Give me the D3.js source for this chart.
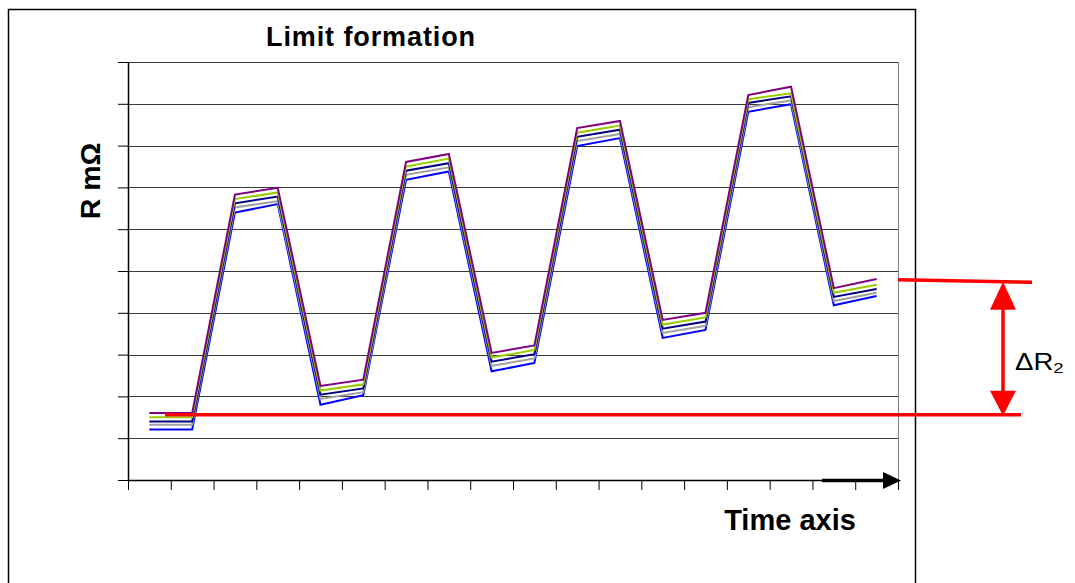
<!DOCTYPE html>
<html>
<head>
<meta charset="utf-8">
<script src="https://cdn.jsdelivr.net/npm/d3@7"></script>
<style>
  html, body { margin: 0; padding: 0; background: #fff; }
  svg { display: block; font-family: "Liberation Sans", Arial, sans-serif; }
</style>
</head>
<body>
<svg id="chart" width="1075" height="583"></svg>
<script>
// ---- Data ----
const categories = d3.range(18).map(i => "t" + (i + 1));
const seriesNames = ["blue", "gray", "navy", "green", "purple"];
const purpleValues = [1.60,1.60,6.83,6.99,2.25,2.40,7.61,7.80,3.04,3.22,8.42,8.59,3.83,4.00,9.21,9.41,4.59,4.81];
const greenValues  = [1.50,1.50,6.72,6.88,2.14,2.29,7.50,7.69,2.93,3.11,8.31,8.48,3.72,3.89,9.11,9.25,4.48,4.67];
const navyValues   = [1.40,1.40,6.62,6.78,2.04,2.19,7.40,7.58,2.83,3.01,8.21,8.38,3.62,3.79,9.02,9.18,4.38,4.57];
const grayValues   = [1.32,1.32,6.52,6.67,1.94,2.10,7.30,7.48,2.73,2.91,8.11,8.28,3.52,3.69,8.92,9.08,4.28,4.48];
const blueValues   = [1.21,1.21,6.40,6.60,1.80,2.03,7.18,7.38,2.60,2.80,7.99,8.18,3.40,3.59,8.81,8.99,4.18,4.40];
const yTickValues = d3.range(0, 11);     // 0..10, unlabeled
const refLowValue = 1.56;                // lower red reference line
const refHighValues = [4.79, 4.73];      // upper red line (start, end)
const titleText = "Limit formation";
const yLabelText = "R mΩ";
const xLabelText = "Time axis";

const colors = { purple: "#800080", green: "#99CC00", navy: "#000080", gray: "#A0A0A0", blue: "#0000FF" };
const valuesByName = { purple: purpleValues, green: greenValues, navy: navyValues, gray: grayValues, blue: blueValues };

// ---- Layout ----
const svg = d3.select("#chart");
const plot = { left: 128, right: 898, top: 62, bottom: 480 };

const x = d3.scaleLinear().domain([0, categories.length]).range([plot.left, plot.right]);
const y = d3.scaleLinear().domain([0, 10]).range([plot.bottom, plot.top]);

// outer frame
svg.append("rect")
  .attr("x", 8.5).attr("y", 9.5).attr("width", 907).attr("height", 600)
  .attr("fill", "none").attr("stroke", "#000").attr("stroke-width", 1.5);

// gridlines
svg.append("g").selectAll("line")
  .data(yTickValues.filter(v => v > 0))
  .join("line")
  .attr("x1", plot.left).attr("x2", plot.right)
  .attr("y1", d => Math.round(y(d)) + 0.5).attr("y2", d => Math.round(y(d)) + 0.5)
  .attr("stroke", "#3a3a3a").attr("stroke-width", 1);

// plot right border
svg.append("line")
  .attr("x1", plot.right + 0.5).attr("x2", plot.right + 0.5)
  .attr("y1", plot.top).attr("y2", plot.bottom)
  .attr("stroke", "#808080").attr("stroke-width", 1);

// y axis
const yAxis = d3.axisLeft(y).tickValues(yTickValues).tickSize(10).tickFormat("");
const gy = svg.append("g").attr("transform", `translate(${plot.left},0)`).call(yAxis);
gy.select(".domain").attr("stroke", "#000").attr("stroke-width", 1.5).attr("d", `M0.5,${plot.top}V${plot.bottom}`);
gy.selectAll(".tick line").attr("stroke", "#000").attr("stroke-width", 1);

// x axis
const xAxis = d3.axisBottom(x).tickValues(d3.range(0, categories.length + 1)).tickSize(10).tickFormat("");
const gx = svg.append("g").attr("transform", `translate(0,${plot.bottom})`).call(xAxis);
gx.select(".domain").attr("stroke", "#000").attr("stroke-width", 1.5).attr("d", `M${plot.left},0.5H${plot.right}`);
gx.selectAll(".tick line").attr("stroke", "#000").attr("stroke-width", 1);

// time arrow
svg.append("line")
  .attr("x1", 822).attr("x2", 886).attr("y1", plot.bottom + 0.5).attr("y2", plot.bottom + 0.5)
  .attr("stroke", "#000").attr("stroke-width", 3.5);
svg.append("path")
  .attr("d", `M883,${plot.bottom - 8}L901,${plot.bottom + 0.5}L883,${plot.bottom + 9}Z`)
  .attr("fill", "#000");

// series lines
const line = d3.line()
  .x((d, i) => x(i + 0.5))
  .y(d => y(d));

svg.append("g").selectAll("path")
  .data(seriesNames)
  .join("path")
  .attr("d", n => line(valuesByName[n]))
  .attr("fill", "none")
  .attr("stroke", n => colors[n])
  .attr("stroke-width", 2)
  .attr("stroke-linejoin", "miter");

// red reference annotations
const red = "#FF0000";
const yLow = y(refLowValue);
svg.append("line")
  .attr("x1", 165).attr("x2", 1021).attr("y1", yLow).attr("y2", yLow)
  .attr("stroke", red).attr("stroke-width", 3.5);
svg.append("line")
  .attr("x1", 898).attr("x2", 1032).attr("y1", y(refHighValues[0])).attr("y2", y(refHighValues[1]))
  .attr("stroke", red).attr("stroke-width", 3.5);

const ax = 1003;
const yTop = y(refHighValues[0]) + (y(refHighValues[1]) - y(refHighValues[0])) * ((ax - 898) / (1032 - 898));
svg.append("line")
  .attr("x1", ax).attr("x2", ax).attr("y1", yTop + 20).attr("y2", yLow - 20)
  .attr("stroke", red).attr("stroke-width", 3.5);
svg.append("path")
  .attr("d", `M${ax},${yTop}L${ax + 13},${yTop + 28}L${ax - 13},${yTop + 28}Z`)
  .attr("fill", red);
svg.append("path")
  .attr("d", `M${ax},${yLow + 1}L${ax + 13},${yLow - 24}L${ax - 13},${yLow - 24}Z`)
  .attr("fill", red);

// delta label
const dl = svg.append("text")
  .attr("transform", "translate(1015,370) scale(1.2,1)")
  .attr("font-size", 23).attr("fill", "#000");
dl.append("tspan").text("ΔR");
dl.append("tspan").attr("font-size", 15.5).attr("dy", 3).text("2");

// title and axis labels
svg.append("text")
  .attr("x", 371).attr("y", 46)
  .attr("text-anchor", "middle")
  .attr("font-size", 27).attr("font-weight", "bold")
  .attr("letter-spacing", 0.9)
  .text(titleText);

svg.append("text")
  .attr("transform", "translate(100,181) rotate(-90)")
  .attr("text-anchor", "middle")
  .attr("font-size", 28.5).attr("font-weight", "bold")
  .text(yLabelText);

svg.append("text")
  .attr("x", 790).attr("y", 530)
  .attr("text-anchor", "middle")
  .attr("font-size", 29).attr("font-weight", "bold")
  .text(xLabelText);
</script>
</body>
</html>
